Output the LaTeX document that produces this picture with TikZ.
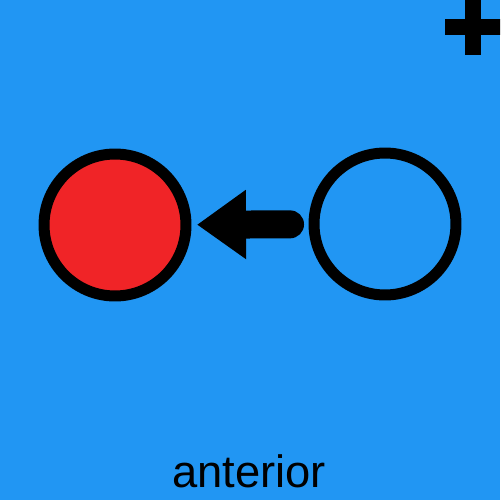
\documentclass[tikz,border=0pt]{standalone}
\usepackage{fontspec}
\setmainfont{Liberation Sans}
\usetikzlibrary{arrows.meta}
\definecolor{bgBlue}{HTML}{2196F3}
\definecolor{dotRed}{HTML}{F02427}
\tikzset{
    RING/.style={shape=circle, draw=black, inner sep=0mm,
        minimum size=2.84cm, line width=0.22cm},
    RED_RING/.style={RING, fill=dotRed},
    EMPTY_RING/.style={RING},
    CAPTION/.style={inner sep=0mm, anchor=base,
        font={\fontsize{25.8}{30}\selectfont}},
    MOVE_EDGE/.style={draw=black, line width=0.56cm, line cap=round,
        -{Triangle[length=0.98cm, width=1.32cm]},
        shorten <=0.37cm, shorten >=0.11cm}
}

\begin{document}
\begin{tikzpicture}[x=0.02cm, y=-0.02cm]
    \useasboundingbox (0,0) rectangle (500,500);
    \clip (0,0) rectangle (500,500);
    \fill[bgBlue] (0,0) rectangle (500,500);
    % plus sign in the corner
    \fill[black] (464.5,-5) rectangle (480.5,55);
    \fill[black] (445,19) rectangle (505,35);
    \node [RED_RING] (front) at (115,225) {};
    \node [EMPTY_RING] (back) at (385,224) {};
    \node [CAPTION] (label) at (249,487) {anterior};
    \draw[MOVE_EDGE] (back) to (front);
\end{tikzpicture}
\end{document}
